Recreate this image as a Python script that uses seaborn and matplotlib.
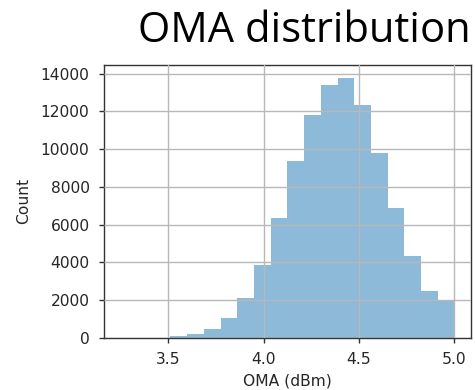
import numpy as np
import pandas as pd
import matplotlib
matplotlib.use("Agg")
import matplotlib.pyplot as plt
import seaborn as sns

# Histogram of optical modulation amplitude: 20 equal bins from min to max
oma_min = 3.248
oma_max = 5.0
counts = [0, 2, 10, 70, 180, 450, 1050, 2100, 3870, 6340,
          9360, 11830, 13430, 13770, 12360, 9790, 6890, 4320, 2470, 2010]
y_ticks = [0, 2000, 4000, 6000, 8000, 10000, 12000, 14000]
x_ticks = [3.5, 4.0, 4.5, 5.0]

edges = np.linspace(oma_min, oma_max, len(counts) + 1)
centers = (edges[:-1] + edges[1:]) / 2
df = pd.DataFrame({"OMA (dBm)": centers, "count": counts})

sns.set_theme(style="white")
plt.rcParams["font.family"] = ["DejaVu Sans"]

fig = plt.figure(figsize=(4.75, 3.9), dpi=100)
ax = fig.add_axes([0.218, 0.134, 0.774, 0.699])

sns.histplot(data=df, x="OMA (dBm)", weights="count", bins=len(counts),
             binrange=(oma_min, oma_max),
             color="#1f77b4", alpha=0.5, linewidth=0, ax=ax)

ax.set_yticks(y_ticks)
ax.set_xticks(x_ticks)
ax.set_xticklabels([f"{t:.1f}" for t in x_ticks])
ax.grid(True, color="#b8b8b8", linewidth=1.0)
ax.set_axisbelow(False)
for s in ax.spines.values():
    s.set_color("#333333")
    s.set_linewidth(1.0)
ax.tick_params(axis="both", which="major", length=3.3, width=1, pad=6.8,
               color="#333333", labelsize=11.2, labelcolor="#262626",
               bottom=True, left=True, direction="out")
ax.set_xlabel("OMA (dBm)", fontsize=11.2, color="#262626", labelpad=5)
ax.set_ylabel("Count", fontsize=11.2, color="#262626", labelpad=6.8)

fig.text(0.99, 0.893, "OMA distribution", ha="right", va="baseline",
         fontsize=30, family="Open Sans", color="black")

fig.savefig("out.png", dpi=100)
